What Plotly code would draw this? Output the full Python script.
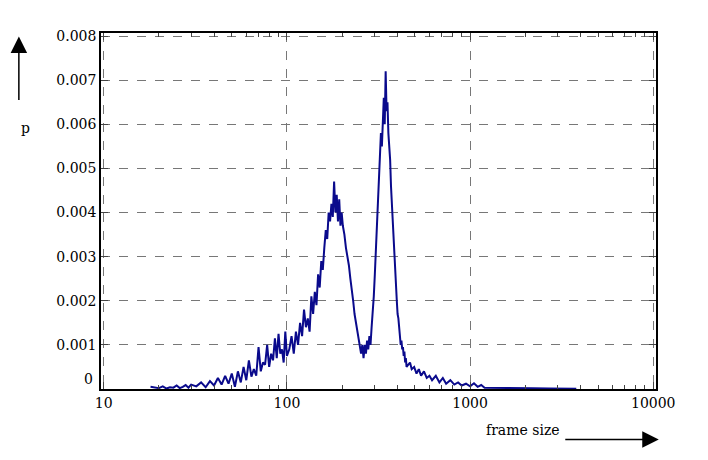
import plotly.graph_objects as go

sizes = [18,19,20,21,22,23,24,25,26,27,28,29,30,32,34,36,38,40,42,44,46,48,50,52,54,56,58,60,62,64,66,68,70,72,74,76,78,80,82,84,86,88,90,92,94,96,98,100,
         103,106,109,112,115,118,121,124,127,130,133,136,139,142,145,148,151,154,157,160,
         163,166,169,172,175,178,181,184,187,190,193,196,199,
         202,206,210,214,218,222,226,230,234,238,242,246,250,254,258,262,
         266,270,274,278,282,286,290,294,298,302,306,310,314,318,322,326,330,334,338,342,346,350,
         354,358,362,366,370,374,378,382,386,390,394,398,402,406,410,414,418,422,426,430,434,438,442,446,450,
         460,470,480,495,510,525,540,560,580,600,620,650,680,710,740,780,820,860,900,950,1000,1050,1100,1150,1200,
         1300,1500,1800,2200,2700,3200,3800]
p_e4 = [0.5,0.3,0.2,0.6,0.1,0.4,0.3,0.8,0.2,0.5,0.9,0.3,1.0,0.6,1.5,0.4,1.8,0.8,2.5,1.0,3.0,1.2,3.5,0.5,4.0,1.5,5.0,2.0,6.5,2.8,4.5,3.0,9.5,4.0,6.0,5.5,10.0,5.0,8.0,6.5,11.5,7.0,12.5,8.0,9.0,6.0,13.0,7.5,
        9,12,8,13,10,15,12,18,14,16,13,21,17,22,19,26,23,29,27,32,
        36,34,40,38,42,39,47,40,44,38,43,37,40,
        37,35,32,30,28,25,23,20,17,15,13,11,9,8,10,7,
        10,8,11,9,12,10,14,17,21,26,31,36,42,47,53,58,55,61,66,60,72,63,
        65,58,55,52,46,42,36,33,28,26,22,20,17,16,14,12,10,11,9,9.5,7.5,8.5,6,7,5,
        5.5,6,4.5,5,3.5,4.5,3,4,2.5,3,2,3,1.5,2.5,1.2,2,1,1.5,0.8,1.2,0.6,1.3,0.5,0.9,0.3,
        0.3,0.2,0.2,0.15,0.1,0.1,0.05]
p = [v * 1e-4 for v in p_e4]
ytick_vals = [0, 0.001, 0.002, 0.003, 0.004, 0.005, 0.006, 0.007, 0.008]
ytick_text = ["", "0.001", "0.002", "0.003", "0.004", "0.005", "0.006", "0.007", "0.008"]
xtick_vals = [10, 100, 1000, 10000]
xtick_text = ["10", "100", "1000", "10000"]

fig = go.Figure(go.Scatter(x=sizes, y=p, mode="lines",
                           line=dict(color="#0a0a8c", width=2), showlegend=False))
font = dict(family="DejaVu Serif", size=14, color="black")
fig.update_layout(width=708, height=460, margin=dict(l=93, r=60, t=25, b=79),
                  plot_bgcolor="white", paper_bgcolor="white", font=font)
fig.update_xaxes(type="log", range=[0.985, 4.015], tickvals=xtick_vals, ticktext=xtick_text,
                 ticks="inside", ticklen=7, mirror="allticks", showline=True, linecolor="black", linewidth=1.5,
                 minor=dict(ticks="inside", ticklen=4, showgrid=False, dtick="D1"),
                 showgrid=True, gridcolor="#777", griddash="dash", gridwidth=1, tickfont=font)
fig.update_yaxes(range=[0, 0.00807], tickvals=ytick_vals, ticktext=ytick_text,
                 ticks="inside", ticklen=7, mirror="allticks", showline=True, linecolor="black", linewidth=1.5,
                 showgrid=True, gridcolor="#777", griddash="dash", gridwidth=1, zeroline=False, tickfont=font)
fig.add_annotation(xref="paper", yref="y", x=0, y=ytick_vals[0], text="0", showarrow=False,
                   font=font, xanchor="right", xshift=-6, yshift=10)
fig.add_annotation(xref="paper", yref="paper", x=-0.148, y=0.99, ax=0, ay=65,
                   showarrow=True, arrowhead=2, arrowsize=2.2, arrowwidth=1.5,
                   arrowcolor="black", text="")
fig.add_annotation(xref="paper", yref="paper", x=-0.148, y=0.76, text="p", showarrow=False,
                   font=font, yanchor="top")
fig.add_annotation(xref="paper", yref="paper", x=1.005, y=-0.142, ax=-95, ay=0,
                   showarrow=True, arrowhead=2, arrowsize=2.2, arrowwidth=1.5,
                   arrowcolor="black", text="")
fig.add_annotation(xref="paper", yref="paper", x=0.83, y=-0.142, text="frame size",
                   showarrow=False, font=font, xanchor="right")
fig.write_html("out.html")
